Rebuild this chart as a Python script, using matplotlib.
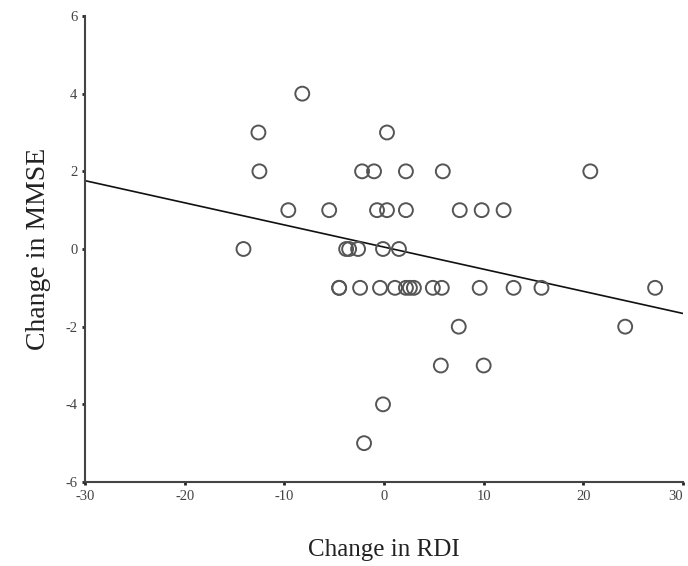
import numpy as np
import matplotlib.pyplot as plt

plt.rcParams['font.family'] = ['Liberation Serif', 'DejaVu Serif']

# change in RDI vs change in MMSE
rdi = [-8.2,
       -12.6, 0.3,
       -12.5, -2.2, -1.0, 2.2, 5.9, 20.7,
       -9.6, -5.5, -0.7, 0.3, 2.2, 7.6, 9.8, 12.0,
       -14.1, -3.8, -3.5, -2.6, -0.1, 1.5,
       -4.5, -4.5, -2.4, -0.4, 1.1, 2.2, 2.6, 3.0, 4.9, 5.8, 9.6, 13.0, 15.8, 27.2,
       7.5, 24.2,
       5.7, 10.0,
       -0.1,
       -2.0]
mmse = [4,
        3, 3,
        2, 2, 2, 2, 2, 2,
        1, 1, 1, 1, 1, 1, 1, 1,
        0, 0, 0, 0, 0, 0,
        -1, -1, -1, -1, -1, -1, -1, -1, -1, -1, -1, -1, -1, -1,
        -2, -2,
        -3, -3,
        -4,
        -5]

# fitted line
intercept = 0.05
slope = -0.057

xticks = [-30, -20, -10, 0, 10, 20, 30]
yticks = [-6, -4, -2, 0, 2, 4, 6]

fig = plt.figure(figsize=(6.88, 5.66), dpi=100)
ax = fig.add_axes([85 / 688, 84 / 566, 598 / 688, 466 / 566])

ax.scatter(rdi, mmse, s=100, facecolors='none', edgecolors='#555555',
           linewidths=1.4, zorder=3)
xl = np.array([-30, 30])
ax.plot(xl, intercept + slope * xl, color='#111111', lw=1.2, zorder=2)

ax.set_xlim(-30, 30)
ax.set_ylim(-6, 6)
ax.set_xticks(xticks)
ax.set_xticklabels([str(t) for t in xticks])
ax.set_yticks(yticks)
ax.set_yticklabels([str(t) for t in yticks])

for s in ['top', 'right']:
    ax.spines[s].set_visible(False)
for s in ['left', 'bottom']:
    ax.spines[s].set_color('#444444')
    ax.spines[s].set_linewidth(1.5)
ax.tick_params(direction='out', length=2.5, width=2, color='#222222',
               labelsize=10.5, labelcolor='#444444', pad=3)
# last x label sits on the figure edge; pull it in a touch
ax.get_xticklabels()[-1].set_horizontalalignment('right')

ax.set_xlabel('Change in RDI', fontsize=18, color='#222222', labelpad=26)
ax.set_ylabel('Change in MMSE', fontsize=20, color='#222222', labelpad=10)

fig.savefig('out.png', dpi=100)
